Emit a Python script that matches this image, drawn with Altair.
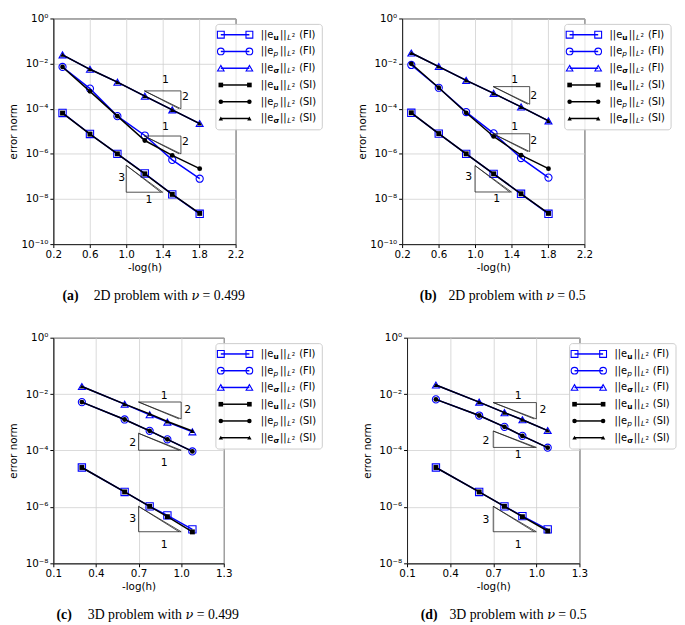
import altair as alt
import pandas as pd

BLUE = "#0000ff"
BLACK = "#000000"
FONT = "DejaVu Sans"
SERIF = "Liberation Serif"

# ---------------- data ----------------
X_2D = [0.301, 0.602, 0.903, 1.204, 1.505, 1.806]
X_3D = [0.301, 0.602, 0.778, 0.903, 1.079]

# panel (a) 2D, nu = 0.499
A_U_FI = [6.5e-5, 7.6e-6, 1.0e-6, 1.35e-7, 1.6e-8, 2.2e-9]
A_U_SI = [6.4e-5, 7.5e-6, 1.0e-6, 1.3e-7, 1.6e-8, 2.3e-9]
A_P_FI = [7.1e-3, 7.8e-4, 4.7e-5, 6.5e-6, 5.4e-7, 7.9e-8]
A_P_SI = [7.1e-3, 5.9e-4, 4.7e-5, 3.9e-6, 8.5e-7, 2.2e-7]
A_S_FI = [2.45e-2, 5.6e-3, 1.5e-3, 3.6e-4, 8.9e-5, 2.2e-5]
A_S_SI = [2.45e-2, 5.6e-3, 1.5e-3, 3.6e-4, 8.9e-5, 2.2e-5]

# panel (b) 2D, nu = 0.5
B_U_FI = [6.6e-5, 7.9e-6, 1.0e-6, 1.3e-7, 1.7e-8, 2.2e-9]
B_U_SI = [6.6e-5, 7.9e-6, 1.0e-6, 1.3e-7, 1.7e-8, 2.3e-9]
B_P_FI = [8.7e-3, 8.5e-4, 7.1e-5, 8.1e-6, 6.5e-7, 8.9e-8]
B_P_SI = [9.8e-3, 8.5e-4, 6.6e-5, 5.9e-6, 8.7e-7, 2.2e-7]
B_S_FI = [2.95e-2, 7.4e-3, 1.8e-3, 4.8e-4, 1.2e-4, 2.9e-5]
B_S_SI = [2.95e-2, 7.4e-3, 1.8e-3, 4.8e-4, 1.2e-4, 2.9e-5]

# panel (c) 3D, nu = 0.499
C_U_FI = [2.5e-5, 3.4e-6, 1.05e-6, 5.0e-7, 1.6e-7]
C_U_SI = [2.5e-5, 3.4e-6, 1.05e-6, 4.5e-7, 1.3e-7]
C_P_FI = [5.2e-3, 1.26e-3, 5.0e-4, 2.5e-4, 9.3e-5]
C_P_SI = [5.2e-3, 1.26e-3, 5.0e-4, 2.5e-4, 9.3e-5]
C_S_FI = [1.86e-2, 4.4e-3, 1.86e-3, 1.02e-3, 4.6e-4]
C_S_SI = [1.86e-2, 4.4e-3, 2.0e-3, 1.07e-3, 4.9e-4]

# panel (d) 3D, nu = 0.5
D_U_FI = [2.5e-5, 3.4e-6, 1.05e-6, 4.7e-7, 1.6e-7]
D_U_SI = [2.5e-5, 3.4e-6, 1.05e-6, 4.5e-7, 1.4e-7]
D_P_FI = [6.5e-3, 1.74e-3, 6.9e-4, 3.3e-4, 1.26e-4]
D_P_SI = [6.5e-3, 1.74e-3, 6.9e-4, 3.3e-4, 1.26e-4]
D_S_FI = [2.1e-2, 5.2e-3, 2.2e-3, 1.23e-3, 5.1e-4]
D_S_SI = [2.1e-2, 5.2e-3, 2.2e-3, 1.23e-3, 5.1e-4]

# slope triangles: (kind, x0, x1, log10 top, log10 bottom)
A_TRI = [("upper", 1.2, 1.6, -3.21, -4.0), ("upper", 1.2, 1.6, -5.21, -6.0), ("lower", 1.0, 1.4, -6.51, -7.70)]
B_TRI = [("upper", 1.2, 1.6, -3.02, -3.80), ("upper", 1.2, 1.6, -5.11, -5.90), ("lower", 1.0, 1.4, -6.52, -7.69)]
C_TRI = [("upper", 0.7, 1.0, -2.28, -2.88), ("lower", 0.7, 1.0, -3.39, -3.99), ("lower", 0.7, 1.0, -5.98, -6.88)]
D_TRI = [("upper", 0.7, 1.0, -2.30, -2.88), ("lower", 0.7, 1.0, -3.31, -3.89), ("lower", 0.7, 1.0, -5.98, -6.88)]

# triangle labels: (x, log10 y, text)
A_LAB = [(1.43, -2.75, "1"), (1.65, -3.47, "2"), (1.43, -4.79, "1"), (1.65, -5.48, "2"), (0.95, -7.06, "3"), (1.25, -8.03, "1")]
B_LAB = [(1.436, -2.75, "1"), (1.644, -3.44, "2"), (1.436, -4.83, "1"), (1.644, -5.44, "2"), (0.931, -7.02, "3"), (1.238, -8.02, "1")]
C_LAB = [(0.88, -2.07, "1"), (1.046, -2.57, "2"), (0.658, -3.74, "2"), (0.88, -4.46, "1"), (0.658, -6.44, "3"), (0.88, -7.34, "1")]
D_LAB = [(0.874, -2.07, "1"), (1.046, -2.55, "2"), (0.65, -3.68, "2"), (0.874, -4.17, "1"), (0.65, -6.47, "3"), (0.874, -7.34, "1")]

X_TICKS_2D = [0.2, 0.6, 1.0, 1.4, 1.8, 2.2]
X_TICKS_3D = [0.1, 0.4, 0.7, 1.0, 1.3]
Y_TICKS_2D = [1, 1e-2, 1e-4, 1e-6, 1e-8, 1e-10]
Y_TICKS_3D = [1, 1e-2, 1e-4, 1e-6, 1e-8]

QUANTS = ["u", "p", "s"]
SHAPES = ["square", "circle", "triangle-up"]
SUBS = {"u": "u", "p": "p", "s": "σ"}

YLABEL = ("datum.value > 0.5 ? '10⁰' : datum.value > 0.005 ? '10⁻²' : "
          "datum.value > 0.00005 ? '10⁻⁴' : datum.value > 0.0000005 ? '10⁻⁶' : "
          "datum.value > 0.000000005 ? '10⁻⁸' : '10⁻¹⁰'")

ONE = pd.DataFrame({"a": [0]})


def make_panel(xs, series, xdom, xticks, ydom, yticks, tris, labs, letter, nu, cap_x, w, h):
    rows = []
    for (q, m), ys in series.items():
        for xv, yv in zip(xs, ys):
            rows.append({"x": xv, "y": yv, "q": q, "m": m})
    df = pd.DataFrame(rows)

    xenc = alt.X("x:Q", scale=alt.Scale(domain=xdom, nice=False, zero=False),
                 axis=alt.Axis(values=xticks, tickCount=20, format=".1f", title="-log(h)",
                               labelFlush=False, labelOverlap=False, grid=True, titlePadding=3))
    yenc = alt.Y("y:Q", scale=alt.Scale(type="log", domain=ydom, nice=False),
                 axis=alt.Axis(values=yticks, tickCount=20, labelExpr=YLABEL, title="error norm",
                               grid=True, labelOverlap=False, titleX=-40, titleY=h / 2,
                               titleAngle=270, titleAlign="center", titleBaseline="middle"))
    xs_ = alt.X("x:Q")
    ys_ = alt.Y("y:Q")
    shape = alt.Shape("q:N", scale=alt.Scale(domain=QUANTS, range=SHAPES), legend=None)

    base = alt.Chart(df)
    fi_line = base.transform_filter("datum.m == 'FI'").mark_line(color=BLUE, strokeWidth=1.5).encode(
        x=xenc, y=yenc, detail="q:N")
    fi_pt = base.transform_filter("datum.m == 'FI'").mark_point(
        filled=False, color=BLUE, strokeWidth=1.1, opacity=1).encode(
        x=xs_, y=ys_, shape=shape,
        size=alt.Size("q:N", scale=alt.Scale(domain=QUANTS, range=[55, 50, 75]), legend=None))
    si_line = base.transform_filter("datum.m == 'SI'").mark_line(color=BLACK, strokeWidth=1.5).encode(
        x=xs_, y=ys_, detail="q:N")
    si_pt = base.transform_filter("datum.m == 'SI'").mark_point(
        filled=True, color=BLACK, opacity=1).encode(
        x=xs_, y=ys_, shape=shape,
        size=alt.Size("q:N", scale=alt.Scale(domain=QUANTS, range=[25, 23, 46]), legend=None))

    # slope triangles
    trows = []
    for i, (kind, x0, x1, et, eb) in enumerate(tris):
        t, b = 10 ** et, 10 ** eb
        if kind == "upper":
            pts = [(x0, t), (x1, t), (x1, b), (x0, t)]
        else:
            pts = [(x0, t), (x0, b), (x1, b), (x0, t)]
        for k, (px, py) in enumerate(pts):
            trows.append({"x": px, "y": py, "tid": f"t{i}", "k": k})
        xe = x1 - 0.05 * (x1 - x0)
        trows.append({"x": x0, "y": t, "tid": f"e{i}", "k": 0})
        trows.append({"x": xe, "y": b, "tid": f"e{i}", "k": 1})
    tri = alt.Chart(pd.DataFrame(trows)).mark_line(color="#222222", strokeWidth=0.8).encode(
        x=xs_, y=ys_, detail="tid:N", order="k:Q")
    lab_df = pd.DataFrame([{"x": a, "y": 10 ** b, "t": c} for a, b, c in labs])
    tri_lab = alt.Chart(lab_df).mark_text(font=FONT, fontSize=11, color=BLACK, baseline="middle",
                                          align="center").encode(x=xs_, y=ys_, text="t:N")

    # ----- legend (drawn as marks, pixel layout) -----
    order = [("u", "FI"), ("p", "FI"), ("s", "FI"), ("u", "SI"), ("p", "SI"), ("s", "SI")]
    lx0, lx1 = 165, 273
    ly0, ly1 = 6, 113
    box = alt.Chart(ONE).mark_rect(
        fill="white", fillOpacity=0.85, stroke="#cccccc", strokeWidth=1, cornerRadius=3).encode(
        x=alt.value(lx0), x2=alt.value(lx1), y=alt.value(ly0), y2=alt.value(ly1))
    lrows, mrows, trow = [], [], []
    for i, (q, m) in enumerate(order):
        yy = 16.5 + 17 * i
        lrows.append({"px": 170, "px2": 199, "py": yy, "m": m})
        for xx in (170, 199):
            mrows.append({"px": xx, "py": yy, "q": q, "m": m})
        trow.append({"px": 210.5, "py": yy, "t": "||e", "st": "n"})
        trow.append({"px": 223.5, "py": yy + 3, "t": SUBS[q], "st": "i" if q == "p" else "b"})
        trow.append({"px": 230.0, "py": yy, "t": "||", "st": "n"})
        trow.append({"px": 237.5, "py": yy + 3, "t": "L", "st": "i"})
        trow.append({"px": 242.0, "py": yy + 0.5, "t": "2", "st": "s"})
        trow.append({"px": 249.5, "py": yy, "t": f"({m})", "st": "n"})
    ldf = pd.DataFrame(lrows)
    mdf = pd.DataFrame(mrows)
    tdf = pd.DataFrame(trow)
    px = alt.X("px:Q", scale=None, axis=None)
    py = alt.Y("py:Q", scale=None, axis=None)
    leg_lines = alt.Chart(ldf).mark_rule(strokeWidth=1.5).encode(
        x=px, x2="px2:Q", y=py,
        color=alt.Color("m:N", scale=alt.Scale(domain=["FI", "SI"], range=[BLUE, BLACK]), legend=None))
    leg_fi = alt.Chart(mdf).transform_filter("datum.m == 'FI'").mark_point(
        filled=False, color=BLUE, strokeWidth=1.1, opacity=1).encode(
        x=px, y=py, shape=shape,
        size=alt.Size("q:N", scale=alt.Scale(domain=QUANTS, range=[48, 44, 66]), legend=None))
    leg_si = alt.Chart(mdf).transform_filter("datum.m == 'SI'").mark_point(
        filled=True, color=BLACK, opacity=1).encode(
        x=px, y=py, shape=shape,
        size=alt.Size("q:N", scale=alt.Scale(domain=QUANTS, range=[22, 20, 40]), legend=None))
    tbase = alt.Chart(tdf)
    leg_tn = tbase.transform_filter("datum.st == 'n'").mark_text(
        font=FONT, fontSize=10, align="left", baseline="middle", color=BLACK).encode(x=px, y=py, text="t:N")
    leg_tb = tbase.transform_filter("datum.st == 'b'").mark_text(
        font=FONT, fontSize=7.5, fontWeight="bold", align="left", baseline="middle", color=BLACK).encode(
        x=px, y=py, text="t:N")
    leg_ti = tbase.transform_filter("datum.st == 'i'").mark_text(
        font=FONT, fontSize=7.5, fontStyle="italic", align="left", baseline="middle", color=BLACK).encode(
        x=px, y=py, text="t:N")
    leg_ts = tbase.transform_filter("datum.st == 's'").mark_text(
        font=FONT, fontSize=5.5, align="left", baseline="middle", color=BLACK).encode(
        x=px, y=py, text="t:N")

    # caption under the panel: bold letter, then "2D problem with ν = ..."
    cy = h + 53
    cx = cap_x[1]
    cap_letter = alt.Chart(ONE).mark_text(
        font=SERIF, fontSize=14, fontWeight="bold", align="center", baseline="middle",
        color=BLACK, text=letter).encode(x=alt.value(cap_x[0]), y=alt.value(cy))
    cap_a = alt.Chart(ONE).mark_text(
        font=SERIF, fontSize=14, align="left", baseline="middle",
        color=BLACK, text=f"{'2D' if xdom[1] > 2 else '3D'} problem with").encode(
        x=alt.value(cx), y=alt.value(cy))
    cap_nu = alt.Chart(ONE).mark_text(
        font="DejaVu Serif", fontSize=13, fontStyle="italic", align="left", baseline="middle",
        color=BLACK, text="ν").encode(x=alt.value(cx + 99.2), y=alt.value(cy))
    cap_b = alt.Chart(ONE).mark_text(
        font=SERIF, fontSize=14, align="left", baseline="middle",
        color=BLACK, text=f"= {nu}").encode(x=alt.value(cx + 110.5), y=alt.value(cy))

    layers = [fi_line, fi_pt, si_line, si_pt, tri, tri_lab,
              box, leg_lines, leg_fi, leg_si, leg_tn, leg_tb, leg_ti, leg_ts,
              cap_letter, cap_a, cap_nu, cap_b]
    return alt.layer(*layers).resolve_scale(size="independent").properties(width=w, height=h)


H = 229
pa = make_panel(X_2D, {("u", "FI"): A_U_FI, ("p", "FI"): A_P_FI, ("s", "FI"): A_S_FI,
                       ("u", "SI"): A_U_SI, ("p", "SI"): A_P_SI, ("s", "SI"): A_S_SI},
                [0.2, 2.2], X_TICKS_2D, [1e-10, 1], Y_TICKS_2D, A_TRI, A_LAB,
                "(a)", "0.499", (17.5, 41), 185, H)
pb = make_panel(X_2D, {("u", "FI"): B_U_FI, ("p", "FI"): B_P_FI, ("s", "FI"): B_S_FI,
                       ("u", "SI"): B_U_SI, ("p", "SI"): B_P_SI, ("s", "SI"): B_S_SI},
                [0.2, 2.2], X_TICKS_2D, [1e-10, 1], Y_TICKS_2D, B_TRI, B_LAB,
                "(b)", "0.5", (26.5, 47), 185, H)
pc = make_panel(X_3D, {("u", "FI"): C_U_FI, ("p", "FI"): C_P_FI, ("s", "FI"): C_S_FI,
                       ("u", "SI"): C_U_SI, ("p", "SI"): C_P_SI, ("s", "SI"): C_S_SI},
                [0.1, 1.3], X_TICKS_3D, [1e-8, 1], Y_TICKS_3D, C_TRI, C_LAB,
                "(c)", "0.499", (11, 35), 173, H)
pd_ = make_panel(X_3D, {("u", "FI"): D_U_FI, ("p", "FI"): D_P_FI, ("s", "FI"): D_S_FI,
                        ("u", "SI"): D_U_SI, ("p", "SI"): D_P_SI, ("s", "SI"): D_S_SI},
                 [0.1, 1.3], X_TICKS_3D, [1e-8, 1], Y_TICKS_3D, D_TRI, D_LAB,
                 "(d)", "0.5", (22.5, 43), 175, H)

row1 = alt.hconcat(pa, pb, spacing=34)
row2 = alt.hconcat(pc, pd_, spacing=39)
chart = alt.vconcat(row1, row2, spacing=28).properties(padding=0).configure_axis(
    labelFont=FONT, labelFontSize=10.5, labelColor=BLACK, titleFont=FONT, titleFontSize=10.5,
    titleFontWeight="normal", titleColor=BLACK, tickColor=BLACK, tickSize=3.5, domainColor="#222222",
    gridColor="#d0d0d0", gridWidth=0.8, labelPadding=2, labelOverlap=False
).configure_view(stroke="#222222", strokeWidth=1)

chart.save("out.html", embed_options={"renderer": "svg", "actions": False})
